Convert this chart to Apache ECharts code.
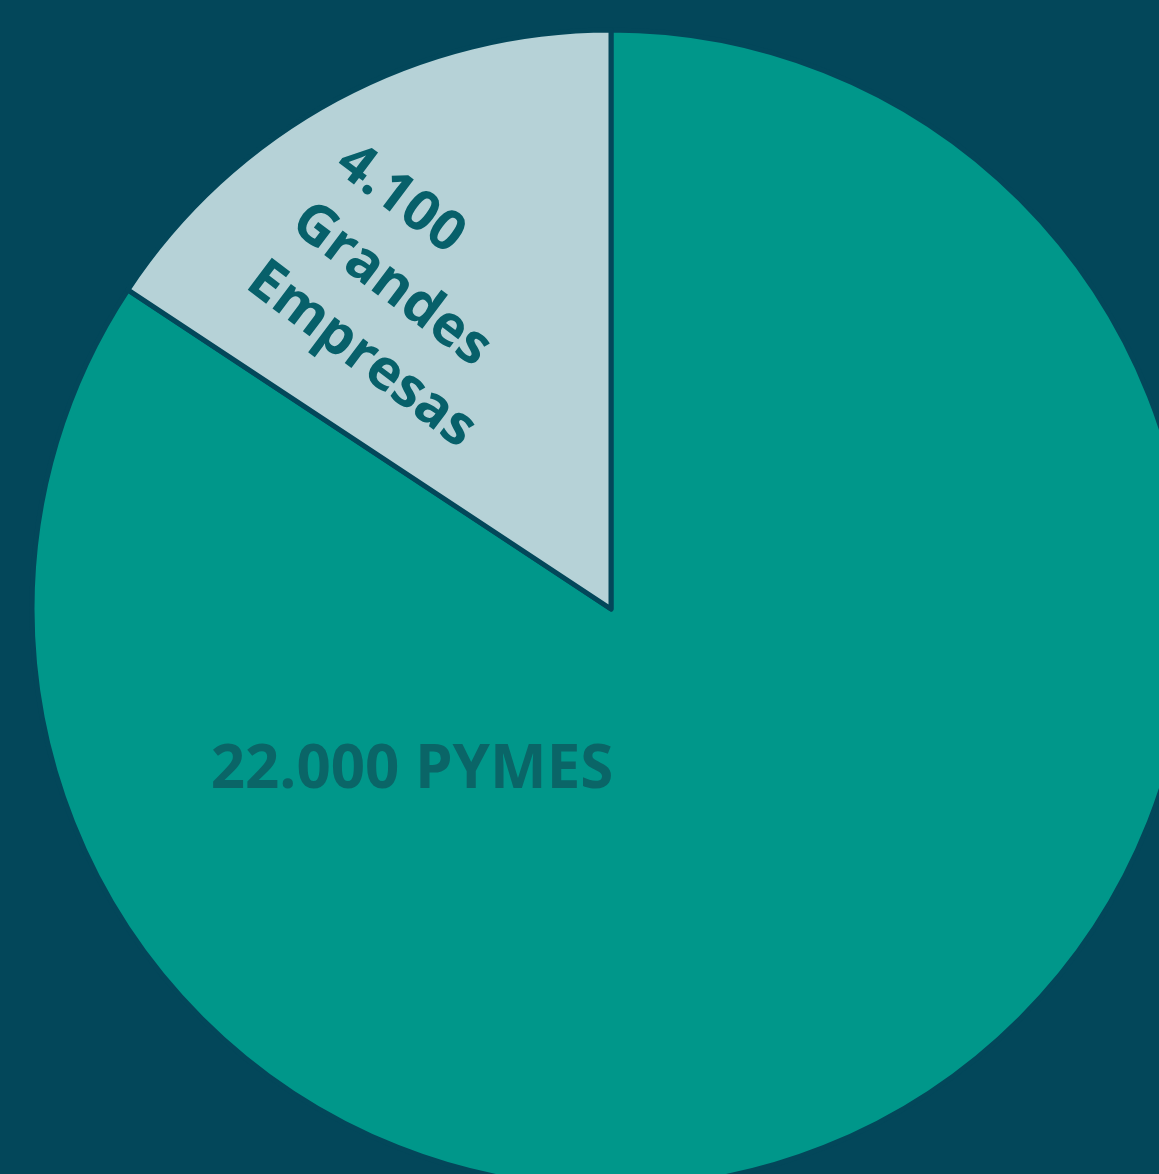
<!DOCTYPE html>
<html><head><meta charset="utf-8">
<script src="https://cdn.jsdelivr.net/npm/echarts@6/dist/echarts.min.js"></script>
<style>html,body{margin:0;padding:0;background:#03475a;}#c{width:1159px;height:1174px;}</style>
</head><body><div id="c"></div>
<script>
const categories = ['PYMES', 'Grandes Empresas'];
const values = [22000, 4100];
const labelTexts = ['22.000 PYMES', '4.100\nGrandes\nEmpresas'];

const chart = echarts.init(document.getElementById('c'), null, {renderer: 'canvas'});
const sliceColors = ['#00978a', '#b6d2d7'];
const labelPos = [[412, 771], [298, 215]];
const labelRot = [0, -37];
const labelStyles = [
  {fontSize: 60, color: '#0a6567', lineHeight: 64, align: 'center'},
  {fontSize: 56, color: '#07606a', lineHeight: 74, align: 'left'}
];
chart.setOption({
  backgroundColor: '#03475a',
  animation: false,
  series: [{
    type: 'pie',
    center: [611, 609],
    radius: [0, 579],
    startAngle: 90,
    clockwise: true,
    itemStyle: {borderColor: '#03475a', borderWidth: 5},
    label: {
      show: true,
      position: 'inside',
      fontFamily: 'Open Sans',
      fontWeight: 'bold',
      verticalAlign: 'middle'
    },
    labelLine: {show: false},
    emphasis: {disabled: true},
    labelLayout: function (p) {
      return {x: labelPos[p.dataIndex][0], y: labelPos[p.dataIndex][1], rotate: labelRot[p.dataIndex], align: labelStyles[p.dataIndex].align};
    },
    data: categories.map((c, i) => ({
      name: c,
      value: values[i],
      itemStyle: {color: sliceColors[i]},
      label: Object.assign({formatter: labelTexts[i]}, labelStyles[i])
    }))
  }]
});
</script></body></html>
